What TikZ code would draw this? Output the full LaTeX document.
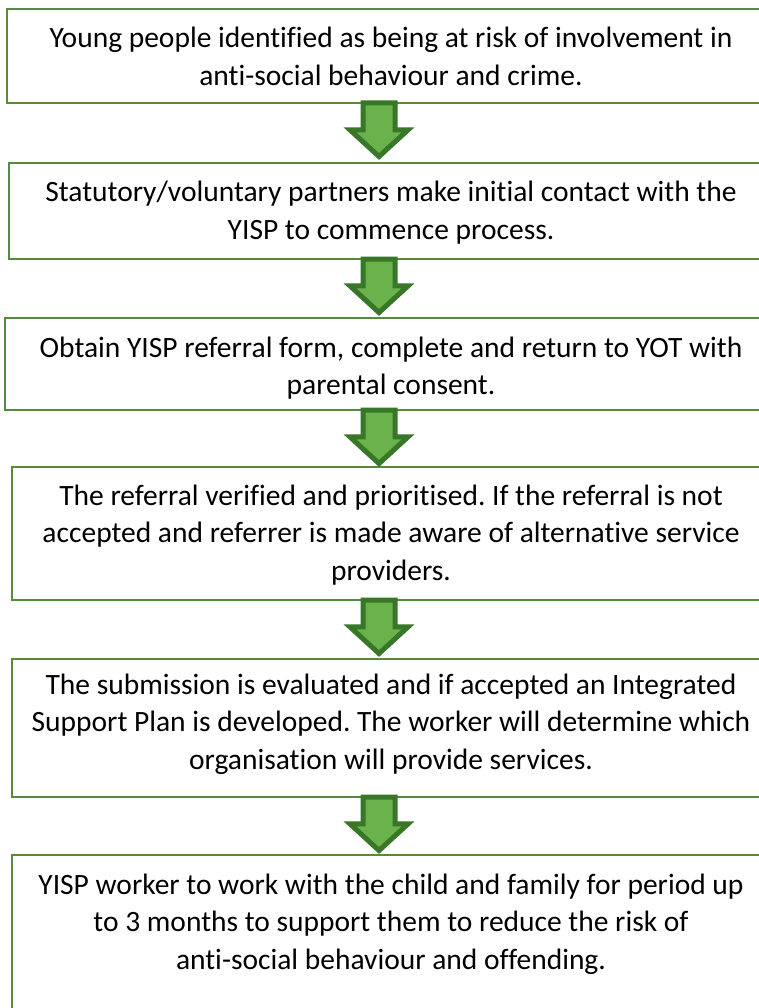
\documentclass[tikz,border=0pt]{standalone}
\usepackage{fontspec}
\setmainfont[Ligatures=NoCommon]{Carlito}
\usetikzlibrary{shapes.arrows}
\definecolor{boxgreen}{RGB}{84,140,60}
\definecolor{arrline}{RGB}{56,118,40}
\definecolor{arrfill}{RGB}{106,178,76}
\frenchspacing
\begin{document}
\begin{tikzpicture}[x=1pt,y=-1pt,
  box/.style={draw=boxgreen, line width=1.3pt, rectangle, inner sep=0pt, outer sep=0pt},
  txt/.style={align=center, font=\fontsize{29.5}{37.5}\selectfont, inner sep=0pt, anchor=base},
  downarr/.style={single arrow, draw=arrline, fill=arrfill, line width=5pt, rotate=-90,
    minimum height=53.5pt, minimum width=1pt, inner xsep=0pt, inner ysep=13.5pt,
    single arrow head extend=13pt, single arrow tip angle=95, outer sep=0pt, anchor=tail}]
\useasboundingbox (0,0) rectangle (758,1008);
\fill[white] (0,0) rectangle (758,1008);
\coordinate (ax) at (379,0);
% boxes
\node[box, minimum width=763pt, minimum height=94pt] (b1) at (388.5,56) {};
\node[box, minimum width=761pt, minimum height=96pt] (b2) at (389.5,211) {};
\node[box, minimum width=765pt, minimum height=92pt] (b3) at (387.5,364) {};
\node[box, minimum width=758pt, minimum height=133pt] (b4) at (391,533.5) {};
\node[box, minimum width=758pt, minimum height=138pt] (b5) at (391,728) {};
\node[box, minimum width=758pt, minimum height=175pt] (b6) at (391,942.5) {};
% texts (anchor base = baseline of last line)
\node[txt] (t1) at (391,85.5) {Young people identified as being at risk of involvement in\\anti-social behaviour and crime.};
\node[txt] (t2) at (391,239.5) {Statutory/voluntary partners make initial contact with the\\YISP to commence process.};
\node[txt] (t3) at (391,394.5) {Obtain YISP referral form, complete and return to YOT with\\parental consent.};
\node[txt] (t4) at (391,580) {The referral verified and prioritised. If the referral is not\\accepted and referrer is made aware of alternative service\\providers.};
\node[txt] (t5) at (391,769) {The submission is evaluated and if accepted an Integrated\\Support Plan is developed. The worker will determine which\\organisation will provide services.};
\node[txt] (t6) at (391,969) {YISP worker to work with the child and family for period up\\to 3 months to support them to reduce the risk of\\anti-social behaviour and offending.};
% arrows
\node[downarr] (a1) at (ax |- b1.south) {};
\node[downarr] (a2) at (ax |- b2.south) {};
\node[downarr] (a3) at (ax |- b3.south) {};
\node[downarr] (a4) at (ax |- b4.south) {};
\node[downarr] (a5) at (ax |- b5.south) {};
\end{tikzpicture}
\end{document}
